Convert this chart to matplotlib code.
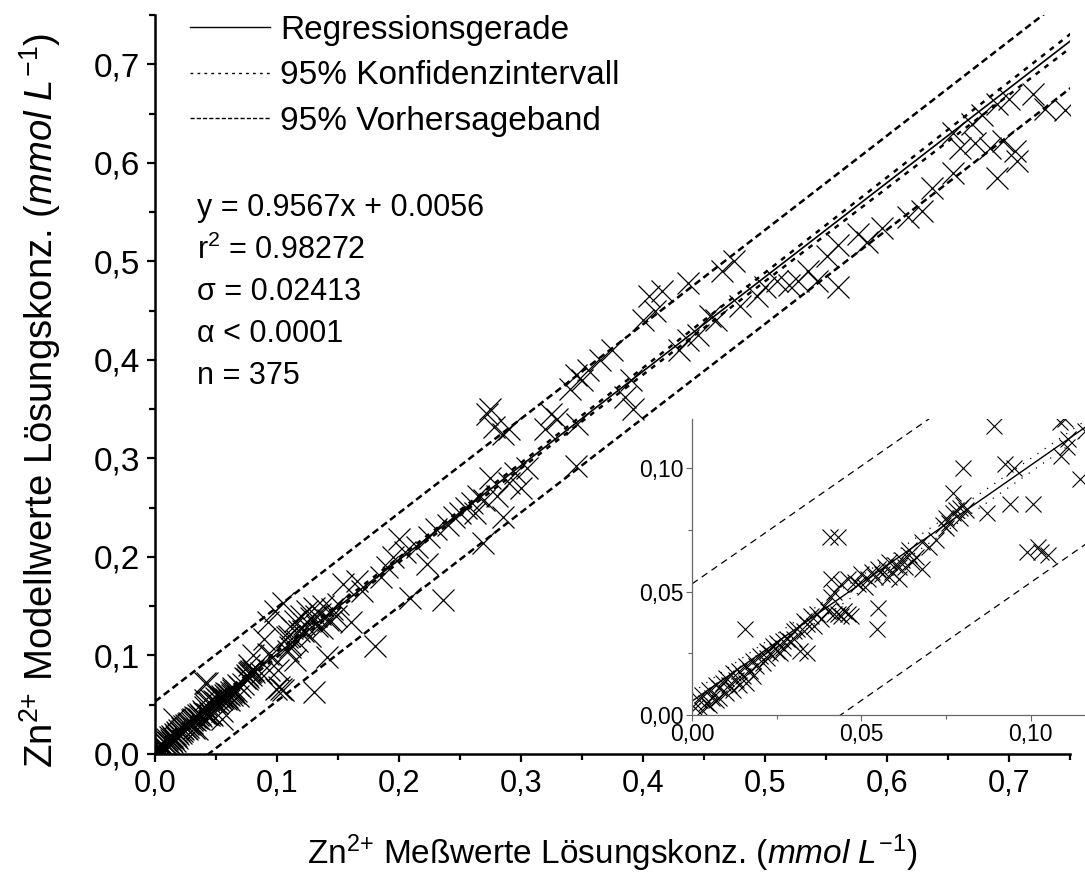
import numpy as np
import matplotlib
matplotlib.use('Agg')
import matplotlib.pyplot as plt
from matplotlib.lines import Line2D
from matplotlib.ticker import MultipleLocator

plt.rcParams['font.family'] = ['Liberation Sans', 'DejaVu Sans']
plt.rcParams['mathtext.fontset'] = 'custom'
plt.rcParams['mathtext.rm'] = 'Liberation Sans'
plt.rcParams['mathtext.it'] = 'Liberation Sans:italic'

# measured (x) vs. modelled (y) Zn2+ solution concentrations, mmol/L
x_meas = [0.001, 0.002, 0.003, 0.003, 0.004, 0.005, 0.005, 0.006, 0.007, 0.007,
          0.008, 0.008, 0.009, 0.010, 0.010, 0.011, 0.012, 0.012, 0.013, 0.014,
          0.014, 0.015, 0.0156, 0.016, 0.016, 0.017, 0.018, 0.018, 0.019, 0.020,
          0.021, 0.022, 0.022, 0.023, 0.024, 0.025, 0.025, 0.026, 0.027, 0.027,
          0.028, 0.029, 0.030, 0.030, 0.031, 0.032, 0.033, 0.033, 0.034, 0.034,
          0.035, 0.036, 0.037, 0.038, 0.039, 0.040, 0.0407, 0.043, 0.041, 0.041,
          0.042, 0.043, 0.044, 0.045, 0.046, 0.047, 0.042, 0.044, 0.046, 0.048,
          0.049, 0.050, 0.051, 0.052, 0.0545, 0.0549, 0.054, 0.055, 0.056, 0.057,
          0.058, 0.059, 0.060, 0.061, 0.062, 0.063, 0.064, 0.065, 0.066, 0.068,
          0.068, 0.070, 0.072, 0.074, 0.075, 0.076, 0.077, 0.077, 0.078, 0.079,
          0.080, 0.081, 0.0923, 0.0938, 0.1006, 0.0988, 0.103, 0.1086, 0.111, 0.1106,
          0.109, 0.1145, 0.053, 0.058, 0.061, 0.064, 0.075, 0.079,
          0.089, 0.093, 0.080, 0.087, 0.095, 0.102, 0.105, 0.130, 0.105, 0.098,
          0.110, 0.112, 0.115, 0.118, 0.120, 0.122, 0.125, 0.128, 0.130, 0.133,
          0.135, 0.138, 0.141, 0.142, 0.145, 0.148, 0.150, 0.154, 0.161, 0.166,
          0.116, 0.121, 0.127, 0.132, 0.137, 0.144,
          0.170, 0.180, 0.185, 0.190, 0.195, 0.200, 0.205, 0.209, 0.215, 0.223,
          0.225, 0.230, 0.236, 0.240, 0.245, 0.250, 0.255, 0.260, 0.262, 0.265,
          0.269, 0.270, 0.272, 0.278, 0.285, 0.275, 0.280, 0.285, 0.290, 0.295,
          0.300, 0.305, 0.320, 0.325, 0.330, 0.340, 0.345, 0.350, 0.355, 0.345,
          0.346, 0.365, 0.375, 0.385, 0.390, 0.392, 0.400, 0.405, 0.410, 0.416,
          0.275, 0.290, 0.437,
          0.430, 0.437, 0.445, 0.455, 0.460, 0.465, 0.475, 0.480, 0.494, 0.500,
          0.510, 0.520, 0.527, 0.535, 0.543, 0.551, 0.560, 0.560, 0.576, 0.584,
          0.596, 0.617, 0.629, 0.637, 0.654, 0.654, 0.660, 0.670, 0.672, 0.678,
          0.685, 0.690, 0.695, 0.700, 0.705, 0.707, 0.690, 0.730, 0.746, 0.720]
y_model = [0.003, 0.006, 0.002, 0.008, 0.005, 0.010, 0.004, 0.007, 0.012, 0.006,
           0.011, 0.007, 0.013, 0.009, 0.015, 0.012, 0.017, 0.010, 0.014, 0.018,
           0.012, 0.016, 0.035, 0.020, 0.013, 0.018, 0.022, 0.016, 0.020, 0.024,
           0.021, 0.026, 0.023, 0.025, 0.028, 0.026, 0.029, 0.025, 0.030, 0.027,
           0.031, 0.030, 0.034, 0.031, 0.035, 0.026, 0.034, 0.038, 0.025, 0.037,
           0.040, 0.036, 0.041, 0.039, 0.044, 0.042, 0.072, 0.072, 0.048, 0.055,
           0.041, 0.041, 0.040, 0.042, 0.041, 0.040, 0.050, 0.053, 0.055, 0.054,
           0.053, 0.057, 0.052, 0.055, 0.035, 0.0435, 0.056, 0.059, 0.057, 0.060,
           0.062, 0.058, 0.061, 0.055, 0.063, 0.060, 0.065, 0.062, 0.064, 0.059,
           0.070, 0.068, 0.071, 0.077, 0.080, 0.078, 0.082, 0.090, 0.083, 0.080,
           0.085, 0.083, 0.1016, 0.0854, 0.0854, 0.0659, 0.0659, 0.1187, 0.1118, 0.1085,
           0.105, 0.0955, 0.058, 0.056, 0.060, 0.067, 0.076, 0.084,
           0.117, 0.134, 0.100, 0.082, 0.100, 0.068, 0.065, 0.063, 0.153, 0.145,
           0.120, 0.128, 0.135, 0.125, 0.140, 0.132, 0.145, 0.138, 0.148, 0.130,
           0.142, 0.150, 0.098, 0.136, 0.147, 0.140, 0.152, 0.173, 0.134, 0.176,
           0.115, 0.125, 0.120, 0.140, 0.128, 0.135,
           0.165, 0.110, 0.180, 0.190, 0.200, 0.218, 0.205, 0.158, 0.210, 0.193,
           0.220, 0.228, 0.156, 0.232, 0.240, 0.245, 0.250, 0.255, 0.245, 0.262,
           0.214, 0.258, 0.345, 0.332, 0.325, 0.280, 0.262, 0.240, 0.275, 0.285,
           0.270, 0.290, 0.330, 0.345, 0.340, 0.370, 0.385, 0.380, 0.390, 0.292,
           0.335, 0.400, 0.410, 0.362, 0.380, 0.350, 0.440, 0.465, 0.450, 0.470,
           0.350, 0.330, 0.478,
           0.410, 0.420, 0.425, 0.445, 0.440, 0.490, 0.500, 0.455, 0.465, 0.474,
           0.480, 0.476, 0.480, 0.490, 0.480, 0.505, 0.517, 0.474, 0.528, 0.520,
           0.534, 0.545, 0.551, 0.574, 0.590, 0.630, 0.615, 0.639, 0.620, 0.648,
           0.615, 0.660, 0.622, 0.665, 0.612, 0.602, 0.585, 0.655, 0.654, 0.670]

# regression result as printed on the chart
slope, intercept = 0.9567, 0.0056
r2, sigma, n_obs = 0.98272, 0.02413, 375
t95 = 1.966

main_ticks = [0.0, 0.1, 0.2, 0.3, 0.4, 0.5, 0.6, 0.7]
main_ticklabels = ['0,0', '0,1', '0,2', '0,3', '0,4', '0,5', '0,6', '0,7']
inset_ticks = [0.0, 0.05, 0.10]
inset_ticklabels = ['0,00', '0,05', '0,10']

x = np.array(x_meas)
y = np.array(y_model)
xm = x.mean()
sxx = x.var() * n_obs

xs = np.linspace(0, 0.76, 300)
fit = slope * xs + intercept
conf = t95 * sigma * np.sqrt(1 / n_obs + (xs - xm) ** 2 / sxx)
pred = t95 * sigma * np.sqrt(1 + 1 / n_obs + (xs - xm) ** 2 / sxx)

fig = plt.figure(figsize=(10.85, 8.76), dpi=100)
ax = fig.add_axes([0.1429, 0.1393, 0.843, 0.8436])

ax.plot(x, y, 'x', color='black', ms=16, mew=0.9, zorder=2)
ax.plot(xs, fit, '-', color='black', lw=1.2, zorder=3)
ax.plot(xs, fit + conf, color='black', lw=1.8, dashes=(2.0, 2.4), zorder=3)
ax.plot(xs, fit - conf, color='black', lw=1.8, dashes=(2.0, 2.4), zorder=3)
ax.plot(xs, fit + pred, color='black', lw=1.8, dashes=(2.8, 1.6), zorder=3)
ax.plot(xs, fit - pred, color='black', lw=1.8, dashes=(2.8, 1.6), zorder=3)

ax.set_xlim(0, 0.75)
ax.set_ylim(0, 0.75)
ax.set_xticks(main_ticks)
ax.set_xticklabels(main_ticklabels)
ax.set_yticks(main_ticks)
ax.set_yticklabels(main_ticklabels)
ax.xaxis.set_minor_locator(MultipleLocator(0.05))
ax.yaxis.set_minor_locator(MultipleLocator(0.05))
ax.tick_params(which='major', direction='out', length=6, width=1.6, pad=5)
ax.tick_params(which='minor', direction='out', length=4, width=1.6)
ax.tick_params(axis='x', labelsize=22)
ax.tick_params(axis='y', labelsize=24)
for s in ['top', 'right']:
    ax.spines[s].set_visible(False)
for s in ['left', 'bottom']:
    ax.spines[s].set_linewidth(1.8)

ax.set_xlabel(r'Zn$^{2{+}}$ Meßwerte Lösungskonz. ($mmol\ L^{-1}$)', fontsize=24, labelpad=24)
ax.set_ylabel(r'Zn$^{2{+}}$ Modellwerte Lösungskonz. ($mmol\ L^{-1}$)', fontsize=27.5,
              labelpad=22, y=0.479)

handles = [Line2D([], [], color='black', lw=1.0, ls='-'),
           Line2D([], [], color='black', lw=1.0, dashes=(2, 3)),
           Line2D([], [], color='black', lw=1.0, dashes=(3, 1.5))]
labels = ['Regressionsgerade', '95% Konfidenzintervall', '95% Vorhersageband']
ax.legend(handles, labels, loc='upper left', bbox_to_anchor=(0.038, 1.0),
          frameon=False, fontsize=24, handlelength=2.4, handletextpad=0.3,
          labelspacing=0.43, borderpad=0, borderaxespad=0)

stats = ['y = %.4fx + %.4f' % (slope, intercept),
         r'r$^2$ = %.5f' % r2,
         'σ = %.5f' % sigma,
         'α < 0.0001',
         'n = %d' % n_obs]
for i, s in enumerate(stats):
    ax.text(0.046, 0.739 - i * 0.057, s, transform=ax.transAxes,
            fontsize=22, va='center', ha='left')

# inset: low concentration range
ins = fig.add_axes([0.6378, 0.1838, 0.3622, 0.3379])
ins.patch.set_alpha(0)
ins.plot(x, y, 'x', color='black', ms=12, mew=0.8)
ins.plot(xs, fit, '-', color='black', lw=1.0)
ins.plot(xs, fit + conf, color='black', lw=0.9, dashes=(1, 6))
ins.plot(xs, fit - conf, color='black', lw=0.9, dashes=(1, 6))
ins.plot(xs, fit + pred, color='black', lw=0.9, dashes=(5.5, 4))
ins.plot(xs, fit - pred, color='black', lw=0.9, dashes=(5.5, 4))
ins.set_xlim(0, 0.116)
ins.set_ylim(0, 0.12)
ins.set_xticks(inset_ticks)
ins.set_xticklabels(inset_ticklabels)
ins.set_yticks(inset_ticks)
ins.set_yticklabels(inset_ticklabels)
ins.xaxis.set_minor_locator(MultipleLocator(0.025))
ins.yaxis.set_minor_locator(MultipleLocator(0.025))
ins.tick_params(which='both', direction='out', color='#666666', width=0.8)
ins.tick_params(which='major', length=4, labelsize=16.5, pad=2)
ins.tick_params(which='minor', length=3)
for lab in ins.get_xticklabels() + ins.get_yticklabels():
    lab.set_family(['Liberation Sans Narrow', 'Liberation Sans'])
for s in ['top', 'right']:
    ins.spines[s].set_visible(False)
for s in ['left', 'bottom']:
    ins.spines[s].set_color('#666666')
    ins.spines[s].set_linewidth(0.9)

fig.savefig('out.png', dpi=100)
